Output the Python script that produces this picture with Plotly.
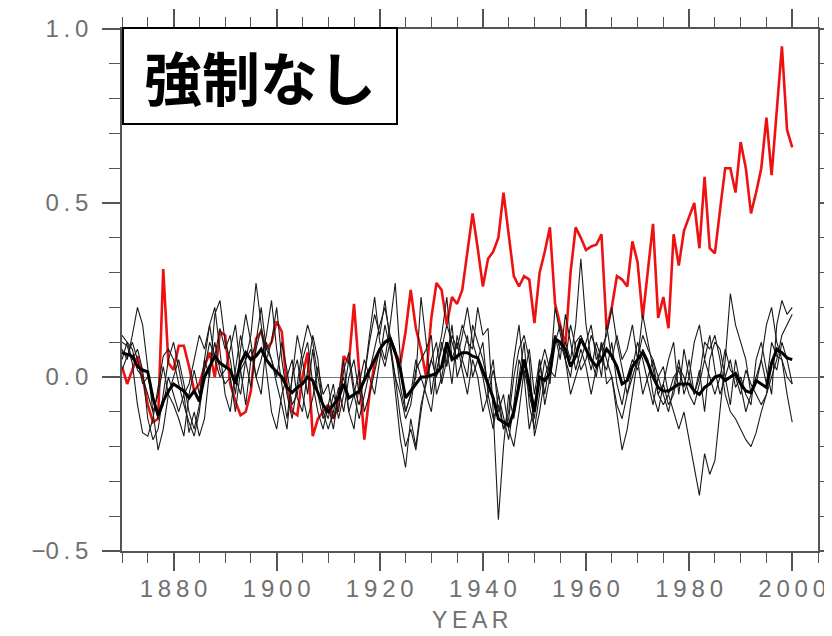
import plotly.graph_objects as go

years = list(range(1870, 2001))

observed = [
    0.03, -0.02, 0.02, 0.06, 0.00, -0.08, -0.13, -0.12, 0.31, 0.04,
    0.02, 0.09, 0.09, 0.03, -0.04, -0.02, 0.03, 0.07, 0.00, 0.13,
    0.12, -0.02, -0.07, -0.11, -0.10, -0.04, 0.11, 0.13, 0.08, 0.10,
    0.16, 0.13, -0.03, -0.10, -0.11, 0.00, 0.07, -0.17, -0.12, -0.10,
    -0.08, -0.12, -0.08, 0.06, 0.04, 0.21, 0.00, -0.18, -0.05, 0.04,
    0.08, 0.10, 0.11, 0.07, 0.04, 0.13, 0.25, 0.14, 0.08, 0.00,
    0.17, 0.27, 0.25, 0.15, 0.23, 0.21, 0.25, 0.36, 0.47, 0.37,
    0.26, 0.34, 0.36, 0.40, 0.53, 0.41, 0.29, 0.26, 0.29, 0.28,
    0.155, 0.30, 0.36, 0.43, 0.21, 0.15, 0.09, 0.30, 0.43, 0.40,
    0.365, 0.375, 0.38, 0.41, 0.135, 0.20, 0.29, 0.28, 0.26, 0.39,
    0.33, 0.17, 0.30, 0.44, 0.17, 0.23, 0.14, 0.41, 0.32, 0.42,
    0.46, 0.50, 0.37, 0.575, 0.37, 0.355, 0.48, 0.60, 0.60, 0.53,
    0.675, 0.60, 0.47, 0.53, 0.60, 0.745, 0.58, 0.77, 0.95, 0.71,
    0.66,
]

ensemble_mean = [
    0.07, 0.065, 0.06, 0.03, 0.02, 0.015, -0.06, -0.11, -0.07, -0.04,
    -0.02, -0.03, -0.04, -0.06, -0.04, -0.07, 0.00, 0.03, 0.06, 0.04,
    0.03, 0.02, -0.02, 0.04, 0.07, 0.05, 0.06, 0.08, 0.05, 0.03,
    0.015, 0.00, -0.03, -0.045, -0.03, -0.02, 0.00, -0.01, -0.045, -0.08,
    -0.10, -0.08, -0.06, -0.02, -0.06, -0.05, -0.04, -0.01, 0.02, 0.05,
    0.08, 0.10, 0.11, 0.07, 0.02, -0.06, -0.04, -0.02, 0.00, 0.00,
    0.005, 0.01, 0.03, 0.10, 0.05, 0.06, 0.07, 0.07, 0.06, 0.055,
    0.02, -0.02, -0.06, -0.12, -0.13, -0.14, -0.10, -0.02, 0.05, -0.02,
    -0.10, 0.00, -0.01, 0.01, 0.11, 0.10, 0.08, 0.03, 0.06, 0.11,
    0.08, 0.05, 0.03, 0.05, 0.08, 0.06, 0.03, -0.02, -0.01, 0.03,
    0.05, 0.07, 0.04, 0.00, -0.03, -0.04, -0.04, -0.03, -0.02, -0.02,
    -0.02, -0.04, -0.05, -0.03, -0.02, 0.00, 0.005, -0.01, 0.00, 0.01,
    -0.02, -0.04, -0.045, -0.01, -0.02, -0.03, 0.04, 0.08, 0.07, 0.055,
    0.05,
]

run_1 = [
    0.10, 0.09, 0.04, -0.08, -0.16, -0.17, -0.12, -0.03, 0.06, 0.08,
    0.05, -0.02, -0.08, -0.13, -0.17, -0.10, 0.02, 0.10, 0.06, 0.14,
    0.08, 0.12, 0.00, -0.05, 0.05, 0.12, 0.27, 0.15, 0.05, 0.10,
    0.20, 0.05, -0.05, -0.12, -0.02, 0.08, 0.15, 0.10, 0.00, -0.08,
    -0.12, -0.05, -0.10, 0.02, 0.07, -0.03, -0.08, 0.00, 0.10, 0.18,
    0.12, 0.22, 0.10, -0.05, -0.18, -0.26, -0.12, -0.20, -0.08, -0.02,
    0.05, 0.00, 0.10, 0.03, 0.12, 0.08, 0.15, 0.10, 0.08, 0.20,
    0.12, 0.14, -0.10, -0.41, -0.20, -0.05, -0.12, 0.00, 0.10, -0.08,
    -0.15, -0.05, 0.05, -0.02, 0.12, 0.05, 0.18, 0.10, 0.02, 0.08,
    0.03, -0.05, 0.02, 0.10, 0.05, 0.00, -0.08, -0.12, -0.05, 0.03,
    0.10, 0.05, -0.02, -0.08, 0.00, -0.05, -0.10, -0.03, 0.05, -0.05,
    0.00, 0.10, 0.15, 0.05, 0.12, 0.02, -0.05, 0.00, -0.08, 0.05,
    -0.02, -0.10, -0.05, 0.00, 0.05, -0.02, 0.10, 0.06, 0.05, 0.00,
    -0.02,
]

run_2 = [
    0.05, 0.10, 0.08, 0.02, 0.00, -0.05, -0.10, -0.21, -0.15, -0.05,
    0.00, 0.05, -0.02, -0.10, -0.15, -0.08, 0.05, 0.15, 0.20, 0.08,
    -0.05, -0.10, 0.02, 0.12, 0.05, -0.03, 0.08, 0.14, 0.02, -0.10,
    -0.15, -0.05, 0.00, 0.05, -0.06, -0.10, 0.02, 0.12, 0.05, -0.10,
    -0.15, -0.10, -0.03, -0.10, 0.00, 0.05, -0.05, 0.00, 0.12, 0.23,
    0.10, 0.05, 0.15, 0.27, 0.05, -0.10, -0.05, 0.00, 0.23, 0.10,
    -0.05, 0.05, 0.12, 0.23, 0.05, 0.10, 0.02, -0.05, 0.05, 0.00,
    -0.10, -0.05, 0.02, -0.05, -0.15, -0.10, 0.05, 0.15, 0.00, -0.15,
    -0.08, 0.02, 0.08, 0.02, 0.00, 0.10, 0.05, -0.05, 0.00, 0.05,
    0.10, 0.15, 0.05, 0.08, 0.12, 0.20, 0.10, 0.02, -0.05, 0.00,
    0.05, -0.05, 0.00, 0.05, -0.05, -0.08, -0.05, -0.10, -0.15, -0.10,
    -0.18, -0.25, -0.34, -0.22, -0.28, -0.24, -0.10, 0.05, 0.24, 0.15,
    0.10, 0.05, -0.05, -0.02, 0.05, 0.15, 0.20, 0.10, 0.05, -0.05,
    -0.13,
]

run_3 = [
    0.08, 0.05, 0.12, 0.20, 0.15, 0.02, -0.10, -0.05, 0.03, -0.05,
    -0.08, -0.12, -0.17, -0.05, 0.02, -0.05, 0.05, 0.00, 0.18, 0.22,
    0.10, 0.05, -0.05, 0.08, 0.18, 0.10, 0.00, 0.05, 0.12, 0.22,
    0.08, -0.02, -0.12, 0.00, 0.05, -0.05, -0.12, -0.06, 0.03, -0.05,
    -0.02, -0.12, -0.05, 0.05, -0.10, -0.15, -0.02, 0.05, 0.00, -0.05,
    0.05, 0.15, 0.08, 0.00, -0.12, -0.20, -0.15, -0.21, -0.10, 0.00,
    0.05, 0.10, -0.02, 0.05, 0.15, 0.00, 0.05, 0.12, 0.00, 0.05,
    0.10, -0.05, -0.12, -0.08, -0.15, -0.12, 0.00, 0.08, 0.12, 0.05,
    -0.17, -0.10, 0.00, 0.05, 0.12, 0.08, 0.10, 0.05, 0.15, 0.34,
    0.15, 0.05, 0.00, 0.10, -0.02, 0.00, -0.10, -0.21, -0.15, -0.05,
    0.05, 0.12, 0.08, 0.05, 0.00, 0.03, -0.05, 0.00, 0.02, -0.03,
    0.05, -0.05, 0.00, 0.10, 0.08, 0.12, 0.05, -0.05, -0.10, -0.12,
    -0.15, -0.18, -0.20, -0.16, -0.10, -0.05, 0.00, 0.05, 0.12, 0.15,
    0.18,
]

run_4 = [
    0.12, 0.10, 0.05, 0.08, 0.02, -0.12, -0.18, -0.15, -0.05, 0.05,
    0.10, 0.02, -0.05, -0.02, 0.05, 0.12, 0.08, 0.15, 0.05, 0.00,
    0.02, 0.08, 0.15, 0.02, -0.08, 0.05, 0.10, 0.20, 0.08, 0.05,
    0.00, 0.10, 0.02, -0.08, -0.05, 0.05, 0.10, -0.02, -0.10, -0.15,
    -0.08, -0.02, -0.12, -0.05, 0.05, -0.05, -0.12, -0.05, 0.02, 0.08,
    0.15, 0.20, 0.12, 0.08, -0.03, -0.10, -0.05, 0.05, 0.00, -0.05,
    -0.10, 0.02, 0.08, 0.15, 0.10, 0.05, 0.12, 0.20, 0.10, 0.05,
    0.00, -0.08, -0.15, -0.05, -0.12, -0.18, -0.08, 0.05, 0.00, 0.08,
    -0.05, 0.05, -0.08, 0.00, 0.20, 0.12, 0.05, 0.15, 0.08, 0.02,
    0.05, 0.12, 0.08, 0.00, 0.15, 0.05, 0.12, 0.05, 0.08, 0.15,
    0.05, 0.18, 0.10, 0.02, -0.05, -0.02, 0.05, 0.10, -0.05, 0.08,
    0.00, -0.05, 0.02, -0.10, 0.05, 0.10, 0.08, 0.00, 0.05, -0.03,
    0.00, -0.05, -0.08, 0.05, 0.10, 0.02, -0.05, 0.15, 0.22, 0.18,
    0.20,
]

run_5 = [
    0.02, 0.06, 0.10, 0.05, -0.02, 0.00, -0.05, -0.12, -0.08, 0.00,
    -0.05, -0.10, -0.05, -0.16, -0.10, -0.17, -0.12, 0.02, 0.10, 0.02,
    -0.02, 0.00, -0.10, 0.02, 0.05, 0.08, 0.00, -0.05, 0.10, 0.05,
    -0.02, -0.08, -0.15, 0.00, 0.12, 0.05, -0.05, 0.08, -0.05, -0.12,
    -0.08, -0.15, -0.05, 0.00, -0.10, -0.05, 0.02, -0.10, -0.05, 0.02,
    0.08, 0.03, 0.10, 0.00, -0.05, -0.12, -0.08, 0.02, 0.05, 0.08,
    0.12, -0.05, 0.00, 0.08, -0.02, 0.12, 0.05, 0.00, 0.15, 0.10,
    0.05, -0.02, 0.05, -0.10, -0.05, -0.15, -0.20, -0.10, 0.02, -0.05,
    -0.12, 0.05, -0.05, 0.05, 0.10, 0.15, 0.05, 0.00, 0.10, 0.12,
    0.08, 0.02, 0.10, 0.05, 0.02, 0.10, -0.02, -0.08, 0.00, 0.05,
    0.02, 0.08, 0.05, -0.05, -0.10, -0.02, -0.08, -0.05, 0.03, 0.00,
    -0.05, -0.08, -0.02, 0.05, 0.00, -0.05, 0.00, 0.08, 0.02, 0.00,
    -0.05, 0.02, -0.02, -0.05, -0.08, -0.05, 0.05, 0.02, 0.10, 0.05,
    -0.02,
]

runs = [run_1, run_2, run_3, run_4, run_5]

x_tick_vals = [1880, 1900, 1920, 1940, 1960, 1980, 2000]
x_tick_text = ["1\u20098\u20098\u20090", "1\u20099\u20090\u20090", "1\u20099\u20092\u20090",
               "1\u20099\u20094\u20090", "1\u20099\u20096\u20090", "1\u20099\u20098\u20090",
               "2\u20090\u20090\u20090"]
y_tick_vals = [-0.5, 0.0, 0.5, 1.0]
y_tick_text = ["\u22120\u2009.\u20095", "0\u2009.\u20090", "0\u2009.\u20095", "1\u2009.\u20090"]
title_text = "強制なし"
x_title = "Y\u2009E\u2009A\u2009R"

fig = go.Figure()

fig.add_trace(go.Scatter(x=years, y=observed, mode="lines",
                         line=dict(color="#ee1111", width=2.6), showlegend=False))
for r in runs:
    fig.add_trace(go.Scatter(x=years, y=r, mode="lines",
                             line=dict(color="#1a1a1a", width=1.1), showlegend=False))
fig.add_trace(go.Scatter(x=years, y=ensemble_mean, mode="lines",
                         line=dict(color="#000000", width=3), showlegend=False))

label_font = dict(family="Liberation Sans, Arial, sans-serif", size=24, color="#707070")

axis_common = dict(
    showline=True, linecolor="#555555", linewidth=1.5, mirror="ticks",
    ticks="outside", ticklen=18, tickwidth=1.5, tickcolor="#555555",
    showgrid=False, automargin=False, tickfont=label_font,
)

fig.update_xaxes(
    range=[1870, 2005], tickmode="array", tickvals=x_tick_vals, ticktext=x_tick_text,
    zeroline=False, ticklabelstandoff=-3,
    minor=dict(dtick=5, tick0=1870, ticks="outside", ticklen=10, tickwidth=1.2,
               tickcolor="#555555", showgrid=False),
    **axis_common,
)
fig.update_yaxes(
    range=[-0.5, 1.0], tickmode="array", tickvals=y_tick_vals, ticktext=y_tick_text,
    zeroline=True, zerolinecolor="#777777", zerolinewidth=1, ticklabelstandoff=9,
    minor=dict(dtick=0.1, tick0=0, ticks="outside", ticklen=11, tickwidth=1.2,
               tickcolor="#555555", showgrid=False),
    **axis_common,
)

fig.add_annotation(
    xref="paper", yref="paper", x=0.5, y=-(620 - 551) / 522, xanchor="center", yanchor="middle",
    text=x_title, showarrow=False,
    font=dict(family="Liberation Sans, Arial, sans-serif", size=23, color="#707070"),
)

fig.add_annotation(
    xref="paper", yref="paper", x=0, y=1.004, xanchor="left", yanchor="top",
    text=title_text, showarrow=False, align="center",
    font=dict(family="Noto Sans CJK JP", size=58, color="black", weight="bold"),
    bgcolor="white", bordercolor="black", borderwidth=2, borderpad=0,
    width=272, height=94,
)

# The page body adds an 8 px offset, so the plot area is placed 8 px up/left.
fig.update_layout(
    width=832, height=636,
    margin=dict(l=114, r=22, t=21, b=93),
    plot_bgcolor="white", paper_bgcolor="white",
)

fig.write_html("out.html")
